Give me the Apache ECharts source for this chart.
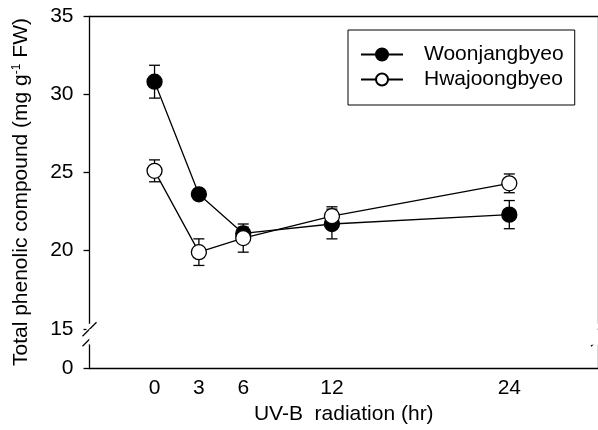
<!DOCTYPE html>
<html lang="en">
<head>
<meta charset="UTF-8">
<title>Total phenolic compound</title>
<script src="https://cdn.jsdelivr.net/npm/echarts@6/dist/echarts.min.js"></script>
<style>
  html, body { margin: 0; padding: 0; background: #fff; }
  #main { width: 598px; height: 430px; }
</style>
</head>
<body>
<div id="main"></div>
<script>
// UV-B exposure times (hr) and y tick values
var hours = [0, 3, 6, 12, 24];
var yTicks = [0, 15, 20, 25, 30, 35];

// Woonjangbyeo (filled) and Hwajoongbyeo (open): mean and error
var woonMean = [30.8, 23.6, 21.1, 21.7, 22.3];
var woonErr = [1.05, 0.3, 0.4, 0.95, 0.9];
var hwaMean = [25.1, 19.9, 20.8, 22.2, 24.3];
var hwaErr = [0.7, 0.85, 0.9, 0.6, 0.6];

var FONT = 'Liberation Sans, Arial, sans-serif';
var chart = echarts.init(document.getElementById('main'));

function pairs(mean) {
  return hours.map(function (h, i) { return [h, mean[i]]; });
}

function errorSeries(mean, err) {
  return {
    type: 'custom',
    silent: true,
    z: 1,
    encode: { x: 0, y: [1, 2] },
    data: hours.map(function (h, i) { return [h, mean[i] - err[i], mean[i] + err[i]]; }),
    renderItem: function (params, api) {
      var lo = api.coord([api.value(0), api.value(1)]);
      var hi = api.coord([api.value(0), api.value(2)]);
      var w = 5.5;
      var st = { stroke: '#000', lineWidth: 1.3 };
      return {
        type: 'group',
        children: [
          { type: 'line', shape: { x1: lo[0], y1: lo[1], x2: hi[0], y2: hi[1] }, style: st },
          { type: 'line', shape: { x1: lo[0] - w, y1: lo[1], x2: lo[0] + w, y2: lo[1] }, style: st },
          { type: 'line', shape: { x1: hi[0] - w, y1: hi[1], x2: hi[0] + w, y2: hi[1] }, style: st }
        ]
      };
    }
  };
}

function yAxisOf(pos, labels) {
  return {
    type: 'value',
    position: pos,
    min: 0,
    max: 35,
    interval: 5,
    breaks: [{ start: 1.5, end: 15, gap: '4.5%' }],
    breakArea: {
      show: true,
      zigzagAmplitude: 0,
      itemStyle: { color: '#fff', borderColor: '#fff', borderWidth: 0, opacity: 1 }
    },
    name: labels ? 'Total phenolic compound (mg g{sup|-1} FW)' : '',
    nameLocation: 'middle',
    nameGap: 57,
    nameTextStyle: {
      fontFamily: FONT, fontSize: 21, color: '#000',
      rich: { sup: { fontFamily: FONT, fontSize: 12, color: '#000', verticalAlign: 'top', padding: [0, 0, 10, 0] } }
    },
    axisLine: { show: true, onZero: false, lineStyle: { color: '#000', width: 1.3 } },
    axisTick: { show: labels, length: 6, customValues: yTicks, lineStyle: { color: '#000', width: 1.3 } },
    axisLabel: { show: labels, customValues: yTicks, margin: 16, fontFamily: FONT, fontSize: 21, color: '#000' },
    splitLine: { show: false }
  };
}

chart.setOption({
  animation: false,
  backgroundColor: '#fff',
  grid: { left: 89.5, right: -1, top: 16, bottom: 60, containLabel: false },
  legend: {
    left: 348,
    top: 30,
    orient: 'vertical',
    data: ['Woonjangbyeo', 'Hwajoongbyeo'],
    itemWidth: 42,
    itemHeight: 15,
    itemGap: 0,
    borderColor: '#000',
    borderWidth: 1,
    padding: [12, 11, 13, 12],
    textStyle: { fontFamily: FONT, fontSize: 21, color: '#000', lineHeight: 25, padding: [0, 0, 0, 16] }
  },
  xAxis: [{
    type: 'value',
    min: -4.4,
    max: 30,
    name: 'UV-B  radiation (hr)',
    nameLocation: 'middle',
    nameGap: 25,
    nameTextStyle: { fontFamily: FONT, fontSize: 21, color: '#000' },
    axisLine: { show: true, onZero: false, lineStyle: { color: '#000', width: 1.3 } },
    axisTick: { show: false },
    axisLabel: { customValues: hours, margin: 10, fontFamily: FONT, fontSize: 21, color: '#000' },
    splitLine: { show: false }
  }, {
    type: 'value',
    position: 'top',
    min: -4.4,
    max: 30,
    axisLine: { show: true, onZero: false, lineStyle: { color: '#000', width: 1.3 } },
    axisTick: { show: false },
    axisLabel: { show: false },
    splitLine: { show: false }
  }],
  yAxis: [yAxisOf('left', true), yAxisOf('right', false)],
  series: [
    errorSeries(woonMean, woonErr),
    errorSeries(hwaMean, hwaErr),
    {
      name: 'Woonjangbyeo',
      type: 'line',
      z: 3,
      data: pairs(woonMean),
      symbol: 'circle',
      symbolSize: 15,
      lineStyle: { color: '#000', width: 1.3 },
      itemStyle: { color: '#000', borderColor: '#000', borderWidth: 1.3 }
    },
    {
      name: 'Hwajoongbyeo',
      type: 'line',
      z: 4,
      data: pairs(hwaMean),
      symbol: 'circle',
      symbolSize: 15,
      lineStyle: { color: '#000', width: 1.3 },
      itemStyle: { color: '#fff', borderColor: '#000', borderWidth: 1.3 }
    }
  ]
});

// break marks "//" on the left and right frame lines
var yHigh = chart.convertToPixel({ yAxisIndex: 0 }, 15);
var yLow = chart.convertToPixel({ yAxisIndex: 0 }, 1.5);
var xl = chart.convertToPixel({ xAxisIndex: 0 }, -4.4);
var xr = chart.convertToPixel({ xAxisIndex: 0 }, 30);
var marks = [];
[xl, xr].forEach(function (x) {
  marks.push({ type: 'rect', shape: { x: x - 3, y: yHigh - 5, width: 6, height: yLow - yHigh + 3 }, style: { fill: '#fff' }, z: 50 });
  [yHigh + 0.5, yHigh + 10.5].forEach(function (c) {
    marks.push({ type: 'line', shape: { x1: x - 7, y1: c + 7, x2: x + 7, y2: c - 7 }, style: { stroke: '#000', lineWidth: 1.3 }, z: 51 });
  });
});
chart.setOption({ graphic: marks });
</script>
</body>
</html>
